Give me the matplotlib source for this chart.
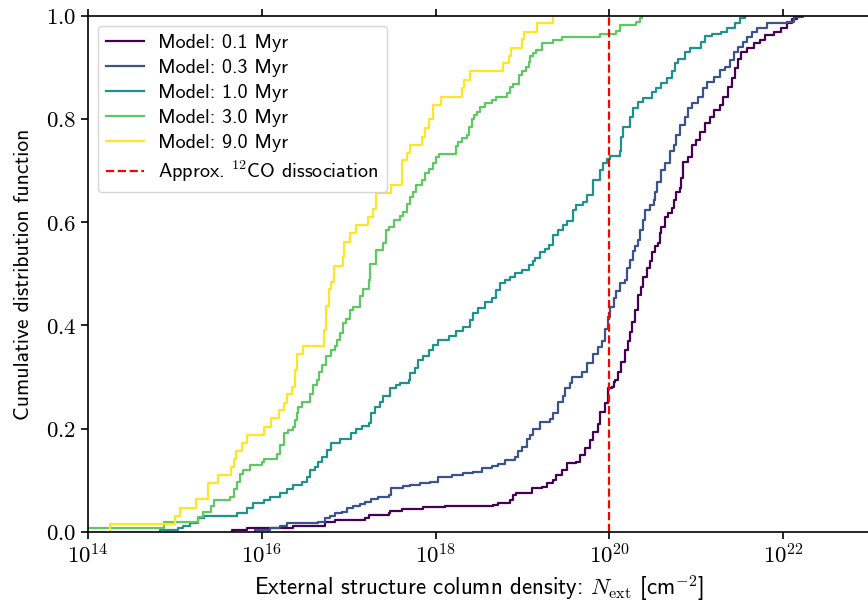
import numpy as np
import matplotlib
matplotlib.use("Agg")
import matplotlib.pyplot as plt
from matplotlib.ticker import FixedLocator, FuncFormatter, NullLocator

plt.rcParams["font.family"] = "cmss10"
plt.rcParams["mathtext.fontset"] = "cm"
plt.rcParams["axes.unicode_minus"] = False

# Step positions (log10 column density in cm^-2) and CDF value reached after each step
logn_01 = [15.66, 15.83, 16.36, 16.73, 16.84, 17.19, 17.23, 17.46, 17.48, 17.61,
           17.86, 18.11, 18.66, 18.72, 18.86, 18.89, 18.93, 19.11, 19.22, 19.28,
           19.35, 19.39, 19.45, 19.51, 19.62, 19.66, 19.72, 19.78, 19.81, 19.87,
           19.89, 19.95, 19.98, 19.99, 20.03, 20.05, 20.06, 20.10, 20.14, 20.18,
           20.22, 20.24, 20.26, 20.29, 20.33, 20.37, 20.39, 20.43, 20.47, 20.49,
           20.52, 20.56, 20.58, 20.60, 20.64, 20.68, 20.72, 20.74, 20.77, 20.81,
           20.83, 20.85, 20.91, 20.95, 21.00, 21.04, 21.10, 21.16, 21.21, 21.27,
           21.31, 21.37, 21.41, 21.45, 21.48, 21.52, 21.58, 21.66, 21.73, 21.79,
           21.89, 21.98, 22.04, 22.10, 22.16, 22.19]
cdf_01 = [0.003, 0.008, 0.012, 0.020, 0.023, 0.028, 0.033, 0.037, 0.041, 0.044,
          0.048, 0.050, 0.052, 0.057, 0.062, 0.072, 0.075, 0.085, 0.087, 0.094,
          0.101, 0.110, 0.120, 0.133, 0.136, 0.149, 0.162, 0.178, 0.194, 0.210,
          0.233, 0.249, 0.262, 0.278, 0.281, 0.291, 0.294, 0.310, 0.330, 0.352,
          0.369, 0.388, 0.407, 0.430, 0.459, 0.475, 0.494, 0.511, 0.524, 0.543,
          0.553, 0.559, 0.579, 0.591, 0.611, 0.617, 0.627, 0.643, 0.659, 0.666,
          0.685, 0.717, 0.727, 0.750, 0.759, 0.775, 0.792, 0.804, 0.817, 0.827,
          0.843, 0.862, 0.879, 0.898, 0.917, 0.930, 0.937, 0.947, 0.953, 0.963,
          0.969, 0.976, 0.985, 0.993, 0.998, 1.000]

logn_03 = [15.92, 16.09, 16.21, 16.29, 16.65, 16.73, 16.78, 16.84, 16.92, 16.98,
           17.05, 17.13, 17.19, 17.26, 17.34, 17.46, 17.49, 17.63, 17.71, 17.82,
           17.94, 18.03, 18.19, 18.32, 18.43, 18.53, 18.65, 18.72, 18.80, 18.91,
           18.95, 18.99, 19.05, 19.09, 19.12, 19.20, 19.32, 19.35, 19.41, 19.47,
           19.49, 19.55, 19.57, 19.68, 19.74, 19.81, 19.87, 19.91, 19.95, 19.98,
           20.01, 20.05, 20.08, 20.12, 20.18, 20.20, 20.24, 20.27, 20.30, 20.33,
           20.35, 20.39, 20.41, 20.47, 20.51, 20.52, 20.55, 20.60, 20.64, 20.70,
           20.74, 20.77, 20.81, 20.87, 20.91, 20.95, 21.02, 21.08, 21.12, 21.21,
           21.27, 21.33, 21.39, 21.43, 21.48, 21.54, 21.58, 21.64, 21.70, 21.81,
           22.04, 22.12, 22.23]
cdf_03 = [0.003, 0.007, 0.012, 0.017, 0.020, 0.027, 0.031, 0.036, 0.039, 0.046,
          0.050, 0.054, 0.059, 0.063, 0.068, 0.072, 0.085, 0.089, 0.091, 0.094,
          0.097, 0.107, 0.110, 0.114, 0.117, 0.123, 0.128, 0.132, 0.139, 0.145,
          0.156, 0.165, 0.180, 0.188, 0.199, 0.214, 0.218, 0.230, 0.252, 0.263,
          0.278, 0.288, 0.301, 0.309, 0.328, 0.344, 0.358, 0.370, 0.393, 0.416,
          0.436, 0.453, 0.467, 0.482, 0.489, 0.511, 0.527, 0.544, 0.554, 0.566,
          0.585, 0.604, 0.624, 0.633, 0.643, 0.659, 0.678, 0.701, 0.714, 0.737,
          0.750, 0.769, 0.788, 0.804, 0.821, 0.830, 0.843, 0.859, 0.872, 0.882,
          0.895, 0.901, 0.914, 0.930, 0.940, 0.950, 0.959, 0.969, 0.976, 0.985,
          0.988, 0.997, 1.000]

logn_10 = [14.83, 15.04, 15.09, 15.17, 15.27, 15.33, 15.71, 15.83, 15.90, 16.02,
           16.09, 16.21, 16.29, 16.36, 16.46, 16.52, 16.55, 16.61, 16.65, 16.69,
           16.75, 16.80, 16.90, 17.03, 17.09, 17.15, 17.23, 17.26, 17.30, 17.36,
           17.39, 17.48, 17.55, 17.59, 17.69, 17.71, 17.76, 17.80, 17.86, 17.92,
           17.97, 18.03, 18.15, 18.24, 18.32, 18.40, 18.43, 18.49, 18.57, 18.65,
           18.70, 18.74, 18.80, 18.86, 18.91, 18.99, 19.07, 19.12, 19.14, 19.20,
           19.26, 19.30, 19.35, 19.41, 19.47, 19.51, 19.58, 19.62, 19.70, 19.74,
           19.81, 19.89, 19.93, 19.97, 20.01, 20.12, 20.14, 20.16, 20.24, 20.27,
           20.33, 20.39, 20.49, 20.54, 20.60, 20.66, 20.72, 20.75, 20.79, 20.87,
           20.93, 21.06, 21.10, 21.18, 21.29, 21.35, 21.45, 21.50, 21.56]
cdf_10 = [0.003, 0.007, 0.012, 0.017, 0.027, 0.031, 0.037, 0.046, 0.056, 0.062,
          0.068, 0.075, 0.083, 0.091, 0.097, 0.107, 0.121, 0.126, 0.136, 0.146,
          0.159, 0.173, 0.180, 0.191, 0.199, 0.205, 0.211, 0.230, 0.242, 0.252,
          0.263, 0.278, 0.285, 0.288, 0.294, 0.307, 0.317, 0.333, 0.341, 0.352,
          0.362, 0.371, 0.380, 0.390, 0.398, 0.411, 0.424, 0.433, 0.446, 0.453,
          0.469, 0.482, 0.488, 0.494, 0.501, 0.507, 0.517, 0.524, 0.530, 0.543,
          0.548, 0.556, 0.575, 0.584, 0.595, 0.603, 0.624, 0.633, 0.640, 0.653,
          0.682, 0.701, 0.715, 0.722, 0.728, 0.737, 0.766, 0.785, 0.804, 0.821,
          0.833, 0.840, 0.853, 0.859, 0.869, 0.879, 0.892, 0.908, 0.916, 0.930,
          0.937, 0.950, 0.961, 0.965, 0.969, 0.976, 0.985, 0.995, 1.000]

logn_30 = [13.90, 14.87, 15.27, 15.32, 15.42, 15.45, 15.63, 15.68, 15.71, 15.75,
           15.78, 15.86, 16.00, 16.02, 16.17, 16.21, 16.25, 16.30, 16.36, 16.38,
           16.40, 16.42, 16.46, 16.55, 16.59, 16.63, 16.66, 16.69, 16.74, 16.80,
           16.84, 16.87, 16.90, 16.93, 16.97, 17.01, 17.05, 17.13, 17.16, 17.23,
           17.25, 17.32, 17.40, 17.43, 17.46, 17.52, 17.59, 17.63, 17.67, 17.71,
           17.74, 17.78, 17.84, 17.88, 17.93, 17.97, 18.01, 18.04, 18.23, 18.26,
           18.30, 18.36, 18.39, 18.42, 18.44, 18.48, 18.51, 18.57, 18.65, 18.70,
           18.82, 18.86, 18.89, 18.96, 18.99, 19.04, 19.07, 19.09, 19.12, 19.16,
           19.22, 19.35, 19.45, 19.89, 20.08, 20.12, 20.31, 20.35, 20.38]
cdf_30 = [0.007, 0.019, 0.030, 0.039, 0.050, 0.062, 0.068, 0.083, 0.097, 0.112,
          0.120, 0.130, 0.136, 0.141, 0.152, 0.169, 0.191, 0.198, 0.204, 0.217,
          0.230, 0.243, 0.252, 0.267, 0.285, 0.294, 0.310, 0.323, 0.341, 0.352,
          0.361, 0.372, 0.385, 0.404, 0.412, 0.430, 0.435, 0.458, 0.470, 0.488,
          0.519, 0.546, 0.560, 0.585, 0.591, 0.604, 0.613, 0.620, 0.636, 0.649,
          0.659, 0.672, 0.682, 0.695, 0.703, 0.714, 0.727, 0.733, 0.748, 0.756,
          0.764, 0.769, 0.785, 0.799, 0.808, 0.814, 0.824, 0.830, 0.837, 0.842,
          0.850, 0.862, 0.868, 0.885, 0.892, 0.901, 0.911, 0.921, 0.927, 0.934,
          0.947, 0.952, 0.958, 0.965, 0.971, 0.982, 0.988, 0.995, 1.000]

logn_90 = [14.25, 15.00, 15.06, 15.24, 15.38, 15.50, 15.65, 15.68, 15.70, 15.77,
           15.83, 16.02, 16.11, 16.20, 16.25, 16.29, 16.35, 16.38, 16.41, 16.48,
           16.72, 16.74, 16.77, 16.80, 16.83, 16.93, 16.95, 17.01, 17.09, 17.22,
           17.28, 17.31, 17.49, 17.61, 17.67, 17.71, 17.84, 17.88, 17.92, 17.97,
           18.06, 18.30, 18.33, 18.40, 18.78, 18.84, 18.87, 19.00, 19.02, 19.17,
           19.35]
cdf_90 = [0.016, 0.031, 0.047, 0.063, 0.094, 0.110, 0.126, 0.141, 0.157, 0.173,
          0.188, 0.203, 0.220, 0.236, 0.249, 0.267, 0.281, 0.314, 0.345, 0.361,
          0.391, 0.438, 0.470, 0.485, 0.516, 0.532, 0.562, 0.579, 0.595, 0.611,
          0.625, 0.657, 0.672, 0.721, 0.735, 0.750, 0.766, 0.782, 0.800, 0.828,
          0.843, 0.859, 0.875, 0.892, 0.908, 0.922, 0.938, 0.954, 0.969, 0.985,
          1.000]

ages = ["0.1", "0.3", "1.0", "3.0", "9.0"]
series = [(logn_01, cdf_01), (logn_03, cdf_03), (logn_10, cdf_10),
          (logn_30, cdf_30), (logn_90, cdf_90)]
co_dissociation = 1e20

colors = plt.cm.viridis(np.linspace(0, 1, len(ages)))

fig = plt.figure(figsize=(8.68, 6.06), dpi=100)
ax = fig.add_axes([88 / 868, 74 / 606, 782 / 868, 516.3 / 606])

for age, (logn, cdf), c in zip(ages, series, colors):
    x = np.concatenate([[logn[0]], logn])
    y = np.concatenate([[0.0], cdf])
    ax.plot(10.0 ** x, y, drawstyle="steps-post", color=c, lw=1.6,
            label=f"Model: {age} Myr")

ax.axvline(co_dissociation, color="red", ls="--", lw=1.6,
           label=r"Approx. $^{12}$CO dissociation")

ax.set_xscale("log")
ax.set_xlim(1e14, 1e23)
ax.set_ylim(0, 1)
ax.xaxis.set_major_locator(FixedLocator([1e14, 1e16, 1e18, 1e20, 1e22]))
ax.xaxis.set_minor_locator(NullLocator())
ax.xaxis.set_major_formatter(FuncFormatter(lambda v, p: r"$10^{%d}$" % round(np.log10(v))))
ax.yaxis.set_major_locator(FixedLocator([0, 0.2, 0.4, 0.6, 0.8, 1.0]))
ax.yaxis.set_major_formatter(FuncFormatter(lambda v, p: r"$%.1f$" % v))
ax.tick_params(axis="both", labelsize=16.5, width=1.2, length=5)
ax.tick_params(axis="x", top=True)
for s in ax.spines.values():
    s.set_linewidth(1.2)

ax.set_xlabel(r"External structure column density: $N_{\rm ext}$ [cm$^{-2}$]", fontsize=16.5)
ax.set_ylabel("Cumulative distribution function", fontsize=15.5, labelpad=9)
ax.legend(loc="upper left", fontsize=14.5, handlelength=1.9, handletextpad=0.7,
          labelspacing=0.34, borderpad=0.4)

fig.savefig("out.png", dpi=100)
